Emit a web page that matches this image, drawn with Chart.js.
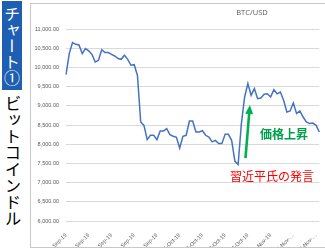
<!DOCTYPE html>
<html>
<head>
    <meta charset="UTF-8">
    <title>BTC/USD</title>
    <script src="https://cdn.jsdelivr.net/npm/chart.js"></script>
    <style>
        html, body { margin: 0; padding: 0; background: #fff; overflow: hidden; width: 325px; height: 250px; }
        .tag { position: absolute; left: 2px; top: 1px; width: 20px; height: 89px; background: #1f5fb2;
               color: #fff; font-family: "Noto Sans CJK JP"; font-size: 16px; line-height: 20px;
               writing-mode: vertical-rl; text-align: center; letter-spacing: 0px; }
        .side { position: absolute; left: 3px; top: 95px; width: 20px; color: #000;
                font-family: "Noto Sans CJK JP"; font-size: 16.5px; line-height: 20px; writing-mode: vertical-rl; }
        .frame { position: absolute; left: 30px; top: 3px; width: 400px; height: 243px; border: 1px solid #c8c8c8; }
        .box { position: absolute; left: 31px; top: 3px; width: 296px; height: 244px; }
        .title { position: absolute; left: 222px; top: 7px; width: 60px; text-align: center;
                 font-family: "Open Sans"; font-size: 7.5px; color: #595959; }
        .note { position: absolute; font-family: "Noto Sans CJK JP"; font-size: 12px; line-height: 14px; white-space: nowrap; }
    </style>
</head>
<body>
    <div class="tag">チャート①</div>
    <div class="side">ビットコインドル</div>
    <div class="frame"></div>
    <div class="box"><canvas id="btc_chart"></canvas></div>
    <div class="title">BTC/USD</div>
    <div class="note" style="left:260px; top:127px; color:#00a04a; font-weight:bold;">価格上昇</div>
    <div class="note" style="left:230px; top:169px; color:#ff0000;">習近平氏の発言</div>
<script>
    // 週ごとの目盛りラベル
    var tickLabels = ['1-Sep-19', '8-Sep-19', '15-Sep-19', '22-Sep-19', '29-Sep-19', '6-Oct-19',
                      '13-Oct-19', '20-Oct-19', '27-Oct-19', '3-Nov-19', '10-Nov-…', '17-Nov-…'];
    // 日次終値 (1 Sep 2019 ~)
    var prices = [9813, 10360, 10646, 10600, 10583, 10360, 10490, 10430, 10340, 10140,
                  10185, 10460, 10385, 10385, 10340, 10297, 10230, 10210, 10315, 10210,
                  10055, 10070, 9790, 8578, 8490, 8120, 8232, 8232, 8120, 8344,
                  8344, 8406, 8250, 8206, 8180, 7901, 8206, 8232, 8604, 8604,
                  8318, 8318, 8350, 8232, 8188, 8060, 8100, 8015, 8015, 8258,
                  8258, 8100, 7560, 7469, 8537, 9229, 9578, 9273, 9448, 9187,
                  9203, 9300, 9312, 9229, 9422, 9312, 9360, 9143, 8838, 8865,
                  9073, 8797, 8865, 8708, 8578, 8537, 8550, 8492, 8318];
    // 矢印 (index, value)
    var arrowFrom = [55.26, 7640];
    var arrowTo = [56.62, 9020];

    var days = prices.map(function (v, i) { return i % 7 === 0 ? tickLabels[i / 7] : ''; });

    var arrowPlugin = {
        id: 'arrow',
        afterDatasetsDraw: function (chart) {
            var c = chart.ctx, x = chart.scales.x, y = chart.scales.y;
            var x0 = x.getPixelForValue(arrowFrom[0]), y0 = y.getPixelForValue(arrowFrom[1]);
            var x1 = x.getPixelForValue(arrowTo[0]), y1 = y.getPixelForValue(arrowTo[1]);
            var a = Math.atan2(y1 - y0, x1 - x0);
            var hl = 9, hw = 4;
            var bx = x1 - hl * Math.cos(a), by = y1 - hl * Math.sin(a);
            c.save();
            c.strokeStyle = '#00b050';
            c.fillStyle = '#00b050';
            c.lineWidth = 2.6;
            c.beginPath();
            c.moveTo(x0, y0);
            c.lineTo(bx, by);
            c.stroke();
            c.beginPath();
            c.moveTo(x1, y1);
            c.lineTo(bx + hw * Math.sin(a), by - hw * Math.cos(a));
            c.lineTo(bx - hw * Math.sin(a), by + hw * Math.cos(a));
            c.closePath();
            c.fill();
            c.restore();
        }
    };

    var ctx = document.getElementById('btc_chart').getContext('2d');
    var chart = new Chart(ctx, {
        type: 'line',
        data: {
            labels: days,
            datasets: [{
                label: 'BTC/USD',
                data: prices,
                borderColor: '#4472c4',
                borderWidth: 1.5,
                fill: false,
                pointRadius: 0,
                tension: 0
            }]
        },
        options: {
            responsive: true,
            maintainAspectRatio: false,
            animation: false,
            layout: { padding: { top: 26, right: 2, left: 0, bottom: 0 } },
            plugins: { legend: { display: false }, tooltip: { enabled: false } },
            scales: {
                x: {
                    grid: { display: false },
                    border: { display: false },
                    afterFit: function (s) { s.height = 26; },
                    ticks: {
                        autoSkip: false,
                        minRotation: 45,
                        maxRotation: 45,
                        padding: 3,
                        color: '#595959',
                        font: { family: 'Liberation Sans', size: 5.5 }
                    }
                },
                y: {
                    min: 6000,
                    max: 11000,
                    afterFit: function (s) { s.width = 35; },
                    grid: { color: '#d9d9d9', lineWidth: 1, drawTicks: false },
                    border: { display: false },
                    ticks: {
                        stepSize: 500,
                        padding: 7,
                        color: '#595959',
                        font: { family: 'Liberation Sans', size: 5.5 },
                        callback: function (v) {
                            return v.toLocaleString('en-US', { minimumFractionDigits: 2, maximumFractionDigits: 2 });
                        }
                    }
                }
            }
        },
        plugins: [arrowPlugin]
    });
</script>
</body>
</html>
